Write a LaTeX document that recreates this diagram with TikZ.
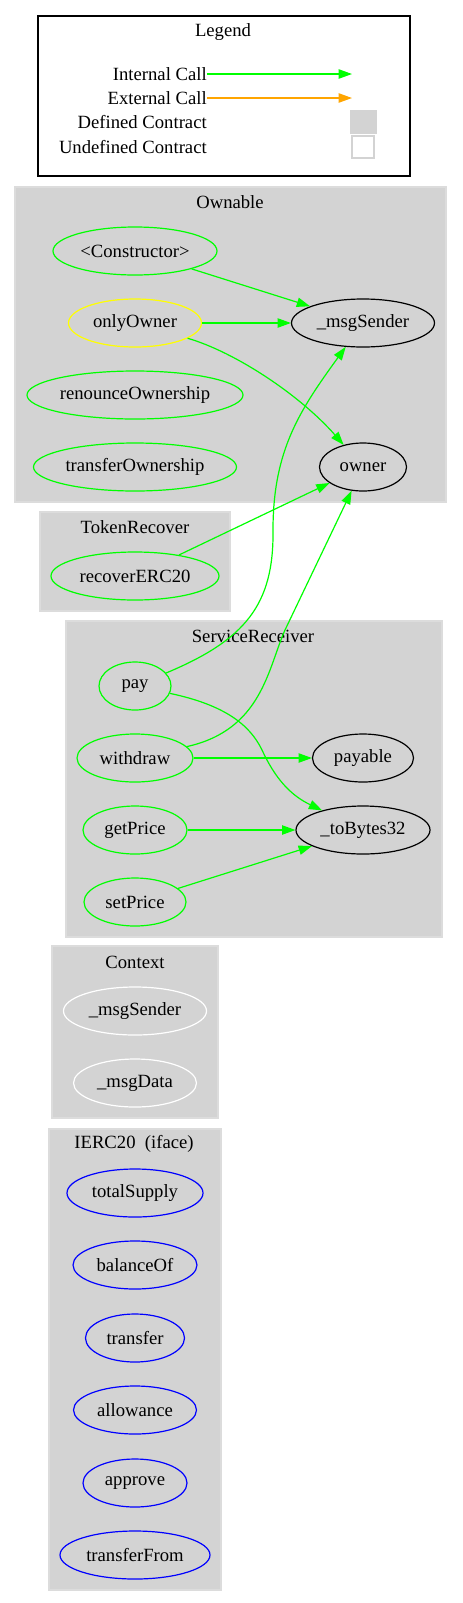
\documentclass[tikz,border=0pt]{standalone}
\usepackage{fontspec}
\setmainfont{Liberation Serif}
\usetikzlibrary{arrows.meta,shapes.geometric}
\definecolor{gvgreen}{HTML}{00FF00}
\definecolor{gvorange}{HTML}{FFA500}
\definecolor{gvgray}{HTML}{D3D3D3}
\definecolor{gvyellow}{HTML}{FFFF00}
\definecolor{gvblue}{HTML}{0000FF}
\tikzset{
  ell/.style={ellipse, draw, line width=0.9pt, inner sep=0pt, minimum height={48*0.75pt}, minimum width={#1*0.75pt}},
  fn/.style={ell=#1, draw=gvgreen},
  yfn/.style={ell=#1, draw=gvyellow},
  bfn/.style={ell=#1, draw=gvblue},
  wfn/.style={ell=#1, draw=white},
  ext/.style={ell=#1, draw=black},
  cluster/.style={fill=gvgray, draw=gvgray!80!white, line width=0.8pt},
  ttl/.style={inner sep=0pt},
  call/.style={draw=gvgreen, line width=0.9pt, -{Triangle[length=10pt,width=7pt]}},
  xcall/.style={draw=gvorange, line width=0.9pt, -{Triangle[length=10pt,width=7pt]}},
}
\begin{document}
\begin{tikzpicture}[x=0.75pt, y=-0.75pt, font=\fontsize{14}{16}\selectfont]
\useasboundingbox (0,0) rectangle (462,1603);
% legend
\draw[line width=1pt] (38,16) rectangle (410,176);
\node[ttl] (legendT) at (223,32) {Legend};
\node[ttl, anchor=east] (lint) at (207,74) {Internal Call};
\node[ttl, anchor=east] (lext) at (207,98) {External Call};
\node[ttl, anchor=east] (ldef) at (207,122) {Defined Contract};
\node[ttl, anchor=east] (lund) at (207,147) {Undefined Contract};
\coordinate (lintE) at (352,74);
\coordinate (lextE) at (352,98);
\draw[call] (lint.east) -- (lintE);
\draw[xcall] (lext.east) -- (lextE);
\node[fill=gvgray, draw=gvgray, inner sep=0pt, minimum width={26*0.75pt}, minimum height={23*0.75pt}] (sqdef) at (363.5,121.5) {};
\node[fill=white, draw=gvgray, line width=0.8pt, inner sep=0pt, minimum width={22*0.75pt}, minimum height={22*0.75pt}] (sqund) at (363,147) {};
% clusters
\draw[cluster] (15,187) rectangle (446,502);
\draw[cluster] (40,512) rectangle (230,611);
\draw[cluster] (66,621) rectangle (442,937);
\draw[cluster] (52,946) rectangle (218,1118);
\draw[cluster] (49,1129) rectangle (221,1590);
\node[ttl] (tOwn) at (230,202) {Ownable};
\node[ttl] (tTok) at (135,527) {TokenRecover};
\node[ttl] (tSrv) at (253,636) {ServiceReceiver};
\node[ttl] (tCtx) at (135,962) {Context};
\node[ttl] (tIerc) at (134,1144) {IERC20\ \ (iface)};
% Ownable
\node[fn=164] (ctor) at (135,251) {<Constructor>};
\node[yfn=133] (only) at (135,323) {onlyOwner};
\node[fn=216] (renounce) at (135,395) {renounceOwnership};
\node[fn=203] (transOwn) at (135,467) {transferOwnership};
\node[ext=143] (ms) at (363,323) {\_msgSender};
\node[ext=87] (owner) at (363,467) {owner};
% TokenRecover
\node[fn=168] (recover) at (135,576) {recoverERC20};
% ServiceReceiver
\node[fn=72] (pay) at (135,686) {pay};
\node[fn=116] (withdraw) at (135,758) {withdraw};
\node[fn=104] (getPrice) at (135,830) {getPrice};
\node[fn=102] (setPrice) at (135,902) {setPrice};
\node[ext=101] (payable) at (363,758) {payable};
\node[ext=134] (tb) at (363,830) {\_toBytes32};
% Context
\node[wfn=143] (cms) at (135,1011) {\_msgSender};
\node[wfn=123] (cmd) at (135,1083) {\_msgData};
% IERC20
\node[bfn=136] (totalSupply) at (135,1193) {totalSupply};
\node[bfn=124] (balanceOf) at (135,1265) {balanceOf};
\node[bfn=99] (transfer) at (135,1338) {transfer};
\node[bfn=123] (allowance) at (135,1410) {allowance};
\node[bfn=104] (approve) at (135,1483) {approve};
\node[bfn=150] (transferFrom) at (135,1555) {transferFrom};
% edges
\draw[call] (ctor) -- (ms);
\draw[call] (only) -- (ms);
\draw[call] (only) .. controls (235,352) and (300,395) .. (owner);
\draw[call] (recover) -- (owner);
\draw[call] (pay) .. controls (245,640) and (274,605) .. (273,530) .. controls (273,450) and (300,410) .. (ms);
\draw[call] (withdraw) .. controls (262,730) and (268,668) .. (285,630) -- (owner);
\draw[call] (withdraw) -- (payable);
\draw[call] (pay) .. controls (225,705) and (250,725) .. (262,750) .. controls (275,778) and (290,795) .. (tb);
\draw[call] (getPrice) -- (tb);
\draw[call] (setPrice) -- (tb);
\end{tikzpicture}
\end{document}
